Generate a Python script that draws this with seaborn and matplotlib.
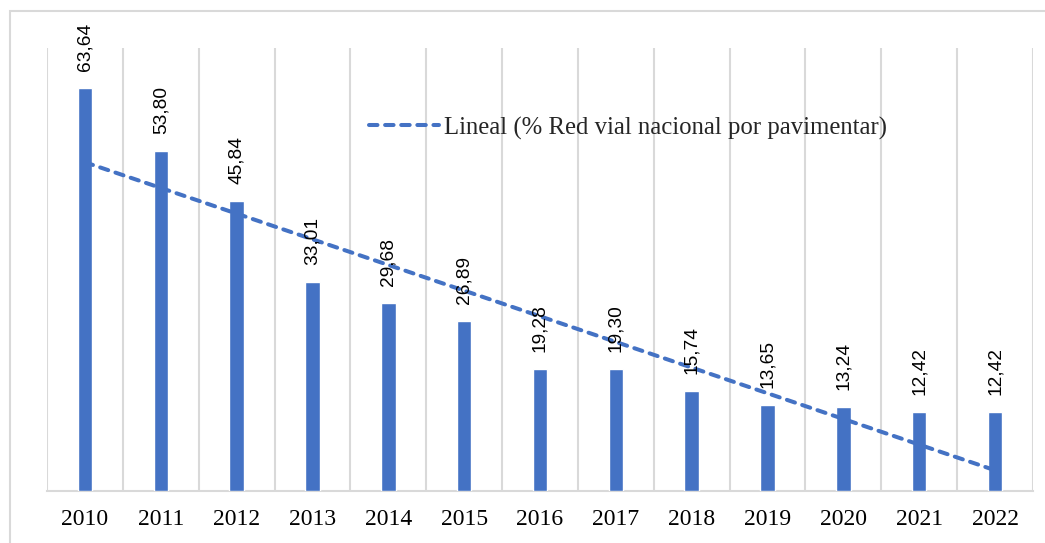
import matplotlib
matplotlib.use("Agg")
import matplotlib.pyplot as plt
from matplotlib.patches import Rectangle
from matplotlib.lines import Line2D
import numpy as np
import pandas as pd
import seaborn as sns

years = ["2010", "2011", "2012", "2013", "2014", "2015", "2016",
         "2017", "2018", "2019", "2020", "2021", "2022"]
pct_unpaved = [63.64, 53.80, 45.84, 33.01, 29.68, 26.89, 19.28,
               19.30, 15.74, 13.65, 13.24, 12.42, 12.42]
value_labels = ["63,64", "53,80", "45,84", "33,01", "29,68", "26,89", "19,28",
                "19,30", "15,74", "13,65", "13,24", "12,42", "12,42"]
trend_label = "Lineal (% Red vial nacional por pavimentar)"

BAR = "#4472C4"
GRID = "#D9D9D9"

sns.set_theme(style="white")
plt.rcParams["font.family"] = ["Liberation Serif", "DejaVu Serif"]

df = pd.DataFrame({"year": years, "pct": pct_unpaved,
                   "pos": np.arange(len(years))})

W, H = 1045, 543
fig = plt.figure(figsize=(W / 100, H / 100), dpi=100)
ax = fig.add_axes([47 / W, 1 - 491 / H, (1033 - 47) / W, (491 - 48) / H])

sns.barplot(data=df, x="year", y="pct", color=BAR, width=0.19,
            saturation=1, errorbar=None, ax=ax, zorder=3)

trend_style = dict(color=BAR, lw=2.9, ls=(0, (2.1, 1.9)),
                   dash_capstyle="round")

# linear trend across the categorical positions
sns.regplot(data=df, x="pos", y="pct", scatter=False, ci=None, ax=ax,
            line_kws=dict(zorder=4, **trend_style))

ax.set_xlim(-0.5, len(years) - 0.5)
ax.set_ylim(0, 70)

# vertical separators between categories
for b in np.arange(-0.5, len(years), 1.0):
    ax.axvline(b, color=GRID, lw=1.5, zorder=1)

for s in ["top", "right", "left"]:
    ax.spines[s].set_visible(False)
ax.spines["bottom"].set_color(GRID)
ax.spines["bottom"].set_linewidth(1.5)
ax.set_yticks([])
ax.set_xlabel("")
ax.set_ylabel("")
ax.tick_params(axis="x", length=0, pad=13, labelsize=17, colors="black")

for p, v, lab in zip(df["pos"], pct_unpaved, value_labels):
    ax.annotate(lab, (p, v), xytext=(0, 17), textcoords="offset pixels",
                rotation=90, ha="center", va="bottom", fontsize=13.8,
                family=["Liberation Sans", "DejaVu Sans"], color="black",
                annotation_clip=False, zorder=5)

handle = Line2D([], [], **trend_style)
fig.legend(handles=[handle], labels=[trend_label],
           loc="center left", bbox_to_anchor=(369 / W, 1 - 128 / H),
           frameon=False, fontsize=17.8, handlelength=2.85,
           handletextpad=0.2, borderpad=0, borderaxespad=0)

# outer chart frame
fig.patches.append(Rectangle((10 / W, -0.1), 1.2, 1.1 - 11 / H,
                             transform=fig.transFigure, fill=False,
                             edgecolor=GRID, lw=1.5))

fig.savefig("out.png", dpi=100)
